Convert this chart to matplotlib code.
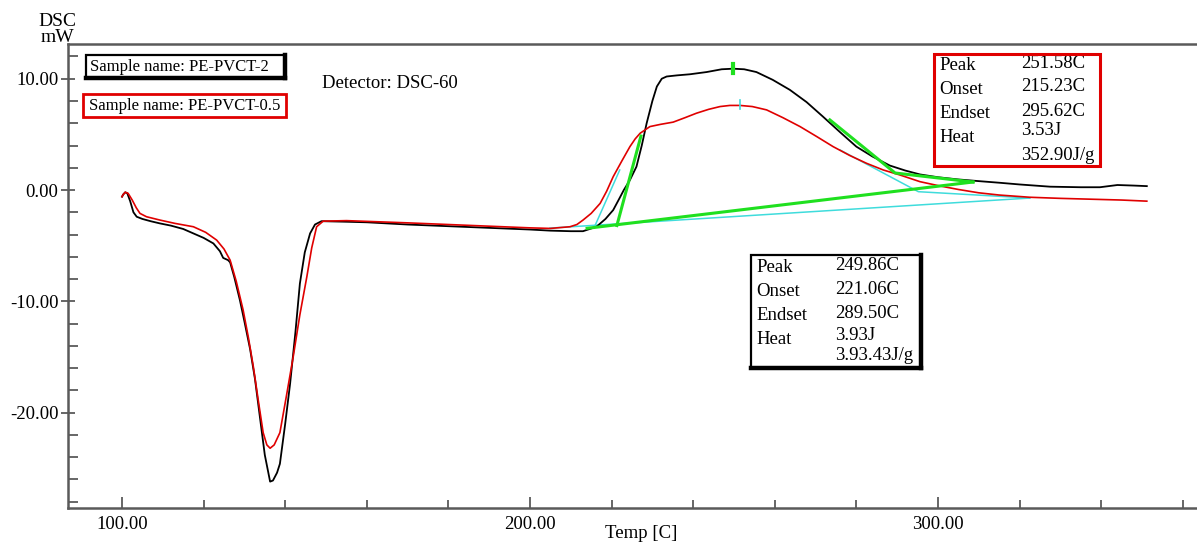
import numpy as np
import matplotlib
matplotlib.use('Agg')
import matplotlib.pyplot as plt
from matplotlib.patches import Rectangle

plt.rcParams['font.family'] = ['Liberation Serif', 'DejaVu Serif']

# --- data: temperature [C] and DSC signal [mW] ---
t_pvct2 = [100.0, 100.3, 100.8, 101.3, 102.0, 102.8, 103.6, 105.0, 107.0, 109.3,
           112.0, 115.0, 117.5, 120.0, 122.4, 124.0, 124.8, 126.0, 126.5, 127.5,
           128.9, 130.0, 131.4, 132.6, 133.8, 135.0, 136.3, 137.0, 138.0, 138.7,
           140.0, 141.2, 142.5, 143.6, 144.8, 146.1, 147.3, 148.9, 155.0, 160.0,
           170.0, 180.0, 190.0, 200.0, 205.0, 210.0, 213.0, 216.3, 218.5, 220.4,
           222.0, 223.0, 224.5, 226.1, 227.4, 228.6, 230.0, 231.1, 232.3, 233.5,
           236.0, 239.2, 243.3, 247.0, 249.8, 252.5, 255.5, 259.5, 263.7, 267.8,
           271.8, 276.0, 280.0, 284.0, 288.2, 292.0, 295.6, 300.0, 305.0, 310.0,
           315.2, 320.0, 327.5, 335.0, 339.7, 344.0, 348.0, 351.2]
dsc_pvct2 = [-0.6, -0.4, -0.2, -0.3, -1.0, -2.0, -2.4, -2.6, -2.8, -3.0,
             -3.2, -3.5, -3.9, -4.3, -4.8, -5.5, -6.1, -6.3, -6.5, -7.8,
             -9.9, -11.8, -14.3, -17.0, -20.4, -23.8, -26.2, -26.1, -25.4, -24.6,
             -21.0, -17.4, -12.8, -8.4, -5.6, -3.9, -3.1, -2.8, -2.85, -2.9,
             -3.1, -3.25, -3.4, -3.55, -3.65, -3.7, -3.7, -3.3, -2.6, -1.8,
             -0.7, 0.0, 0.9, 2.1, 4.0, 6.0, 8.0, 9.3, 10.0, 10.2,
             10.3, 10.4, 10.6, 10.85, 10.9, 10.85, 10.6, 9.9, 9.0, 7.9,
             6.6, 5.2, 3.9, 3.0, 2.2, 1.75, 1.4, 1.15, 0.95, 0.8,
             0.65, 0.5, 0.3, 0.25, 0.25, 0.45, 0.4, 0.35]

t_pvct05 = [100.0, 100.3, 100.8, 101.5, 102.5, 103.5, 104.4, 106.0, 109.3, 113.0,
            117.5, 120.5, 123.2, 125.0, 126.5, 128.0, 129.7, 131.0, 132.2, 133.4,
            134.6, 135.5, 136.3, 137.3, 138.7, 140.3, 142.0, 143.6, 145.3, 146.5,
            147.7, 149.3, 155.0, 170.0, 180.0, 190.0, 200.0, 205.0, 209.8, 211.5,
            213.0, 215.0, 217.2, 218.8, 220.4, 222.5, 224.5, 225.8, 227.0, 229.4,
            232.0, 235.1, 238.0, 240.8, 243.8, 246.6, 249.0, 251.5, 254.5, 258.0,
            262.0, 266.2, 270.3, 274.3, 278.4, 282.5, 286.6, 290.7, 295.6, 300.0,
            305.0, 310.0, 315.0, 322.5, 330.0, 340.0, 345.0, 351.2]
dsc_pvct05 = [-0.6, -0.4, -0.2, -0.3, -0.9, -1.6, -2.1, -2.4, -2.7, -3.0,
              -3.3, -3.8, -4.5, -5.3, -6.3, -8.2, -10.8, -13.3, -15.9, -18.9,
              -21.8, -22.9, -23.2, -22.9, -21.8, -18.5, -14.9, -11.2, -7.8, -5.2,
              -3.3, -2.8, -2.75, -2.95, -3.1, -3.25, -3.4, -3.45, -3.3, -3.1,
              -2.7, -2.1, -1.2, -0.1, 1.2, 2.6, 3.9, 4.6, 5.1, 5.7,
              5.9, 6.1, 6.5, 6.9, 7.25, 7.5, 7.6, 7.6, 7.5, 7.2,
              6.5, 5.7, 4.8, 3.9, 3.1, 2.4, 1.8, 1.35, 0.75, 0.4,
              0.05, -0.25, -0.45, -0.65, -0.75, -0.85, -0.9, -1.0]

# analysis lines (green: PE-PVCT-2, cyan: PE-PVCT-0.5)
green_base_t, green_base_y = [214.0, 308.6], [-3.44, 0.72]
green_onset_t, green_onset_y = [221.3, 227.2], [-3.19, 4.85]
green_end_t, green_end_y = [273.5, 289.5, 308.6], [6.3, 1.53, 0.72]
green_peak_t, green_peak_y = [249.8, 249.8], [10.5, 11.3]
cyan_base_t, cyan_base_y = [204.9, 322.5], [-3.42, -0.72]
cyan_onset_t, cyan_onset_y = [216.0, 222.0], [-3.15, 1.8]
cyan_end_t, cyan_end_y = [276.0, 295.2, 322.5], [3.6, -0.15, -0.72]
cyan_peak_t, cyan_peak_y = [251.5, 251.5], [7.3, 8.1]

stat_labels = ['Peak', 'Onset', 'Endset', 'Heat']
stats_pvct05 = ['251.58C', '215.23C', '295.62C', '3.53J', '352.90J/g']
stats_pvct2 = ['249.86C', '221.06C', '289.50C', '3.93J', '3.93.43J/g']

W, H = 1197, 542
fig = plt.figure(figsize=(W / 100, H / 100), dpi=100)
ax = fig.add_axes([68 / W, (H - 508) / H, (W - 68) / W, (508 - 44) / H])

gray = '#5a5a5a'
green = '#1fe01f'
cyan = '#3fdcdc'

ax.plot(cyan_base_t, cyan_base_y, color=cyan, lw=1.1)
ax.plot(cyan_onset_t, cyan_onset_y, color=cyan, lw=1.1)
ax.plot(cyan_end_t, cyan_end_y, color=cyan, lw=1.1)
ax.plot(t_pvct2, dsc_pvct2, color='black', lw=1.3)
ax.plot(t_pvct05, dsc_pvct05, color='#e00000', lw=1.2)
ax.plot(green_base_t, green_base_y, color=green, lw=2.2)
ax.plot(green_onset_t, green_onset_y, color=green, lw=2.2)
ax.plot(green_end_t, green_end_y, color=green, lw=2.2)
ax.plot(green_peak_t, green_peak_y, color=green, lw=3)
ax.plot(cyan_peak_t, cyan_peak_y, color=cyan, lw=1.2)

ax.set_xlim(86.76, 363.5)
ax.set_ylim(-28.57, 13.12)
ax.set_xticks([100, 200, 300])
ax.set_xticklabels(['100.00', '200.00', '300.00'])
ax.set_xticks(np.arange(100, 361, 20), minor=True)
ax.set_yticks([-20, -10, 0, 10])
ax.set_yticklabels(['-20.00', '-10.00', '0.00', '10.00'])
ax.set_yticks(np.arange(-28, 13, 2), minor=True)
ax.tick_params(which='both', colors=gray, labelcolor='black', labelsize=13.5, width=1.3)
ax.tick_params(axis='y', which='major', direction='inout', length=10, pad=2)
ax.tick_params(axis='y', which='minor', direction='in', length=7)
ax.tick_params(axis='x', which='major', direction='in', length=8, pad=6)
ax.tick_params(axis='x', which='minor', direction='in', length=6)
ax.spines['right'].set_visible(False)
for s in ['left', 'top', 'bottom']:
    ax.spines[s].set_color(gray)
    ax.spines[s].set_linewidth(1.8)


def px(x, y):
    return x / W, 1 - y / H


def box(x0, y0, x1, y1, color, lw=2.0, shadow=False):
    fx, fy = px(x0, y1)
    r = Rectangle((fx, fy), (x1 - x0) / W, (y1 - y0) / H, transform=fig.transFigure,
                  fill=False, edgecolor=color, lw=lw, zorder=5)
    fig.patches.append(r)
    if shadow:
        fig.lines.append(plt.Line2D([px(x1, y0)[0], px(x1, y1)[0]], [px(x1, y0)[1], px(x1, y1)[1]],
                                    transform=fig.transFigure, color=color, lw=3.2))
        fig.lines.append(plt.Line2D([px(x0, y1)[0], px(x1, y1)[0]], [px(x0, y1)[1], px(x1, y1)[1]],
                                    transform=fig.transFigure, color=color, lw=3.2))


def txt(x, y, s, size=13, ha='left'):
    fig.text(*px(x, y), s, fontsize=size, ha=ha, va='center')


# sample name boxes
box(86, 55, 285, 78, 'black', lw=1.6, shadow=True)
txt(90, 67, 'Sample name: PE-PVCT-2', size=12)
box(83, 94, 286, 117, '#e00000', lw=2.0)
txt(89, 106, 'Sample name: PE-PVCT-0.5', size=12)
txt(322, 84, 'Detector: DSC-60', size=13.5)

# red statistics box
box(934, 54, 1100, 166, '#e00000', lw=2.2)
for lab, yy in zip(stat_labels, [66, 90, 114, 138]):
    txt(939, yy, lab, size=13.5)
for val, yy in zip(stats_pvct05, [63, 87, 111, 131, 155]):
    txt(1021, yy, val, size=13.5)

# black statistics box
box(751, 255, 921, 368, 'black', lw=1.6, shadow=True)
for lab, yy in zip(stat_labels, [268, 292, 316, 339]):
    txt(756, yy, lab, size=13.5)
for val, yy in zip(stats_pvct2, [266, 290, 314, 335, 356]):
    txt(835, yy, val, size=13.5)

# axis titles
txt(57, 22, 'DSC', size=14, ha='center')
txt(57, 37, 'mW', size=14, ha='center')
txt(641, 533, 'Temp [C]', size=13.5, ha='center')

fig.savefig('out.png', dpi=100)
